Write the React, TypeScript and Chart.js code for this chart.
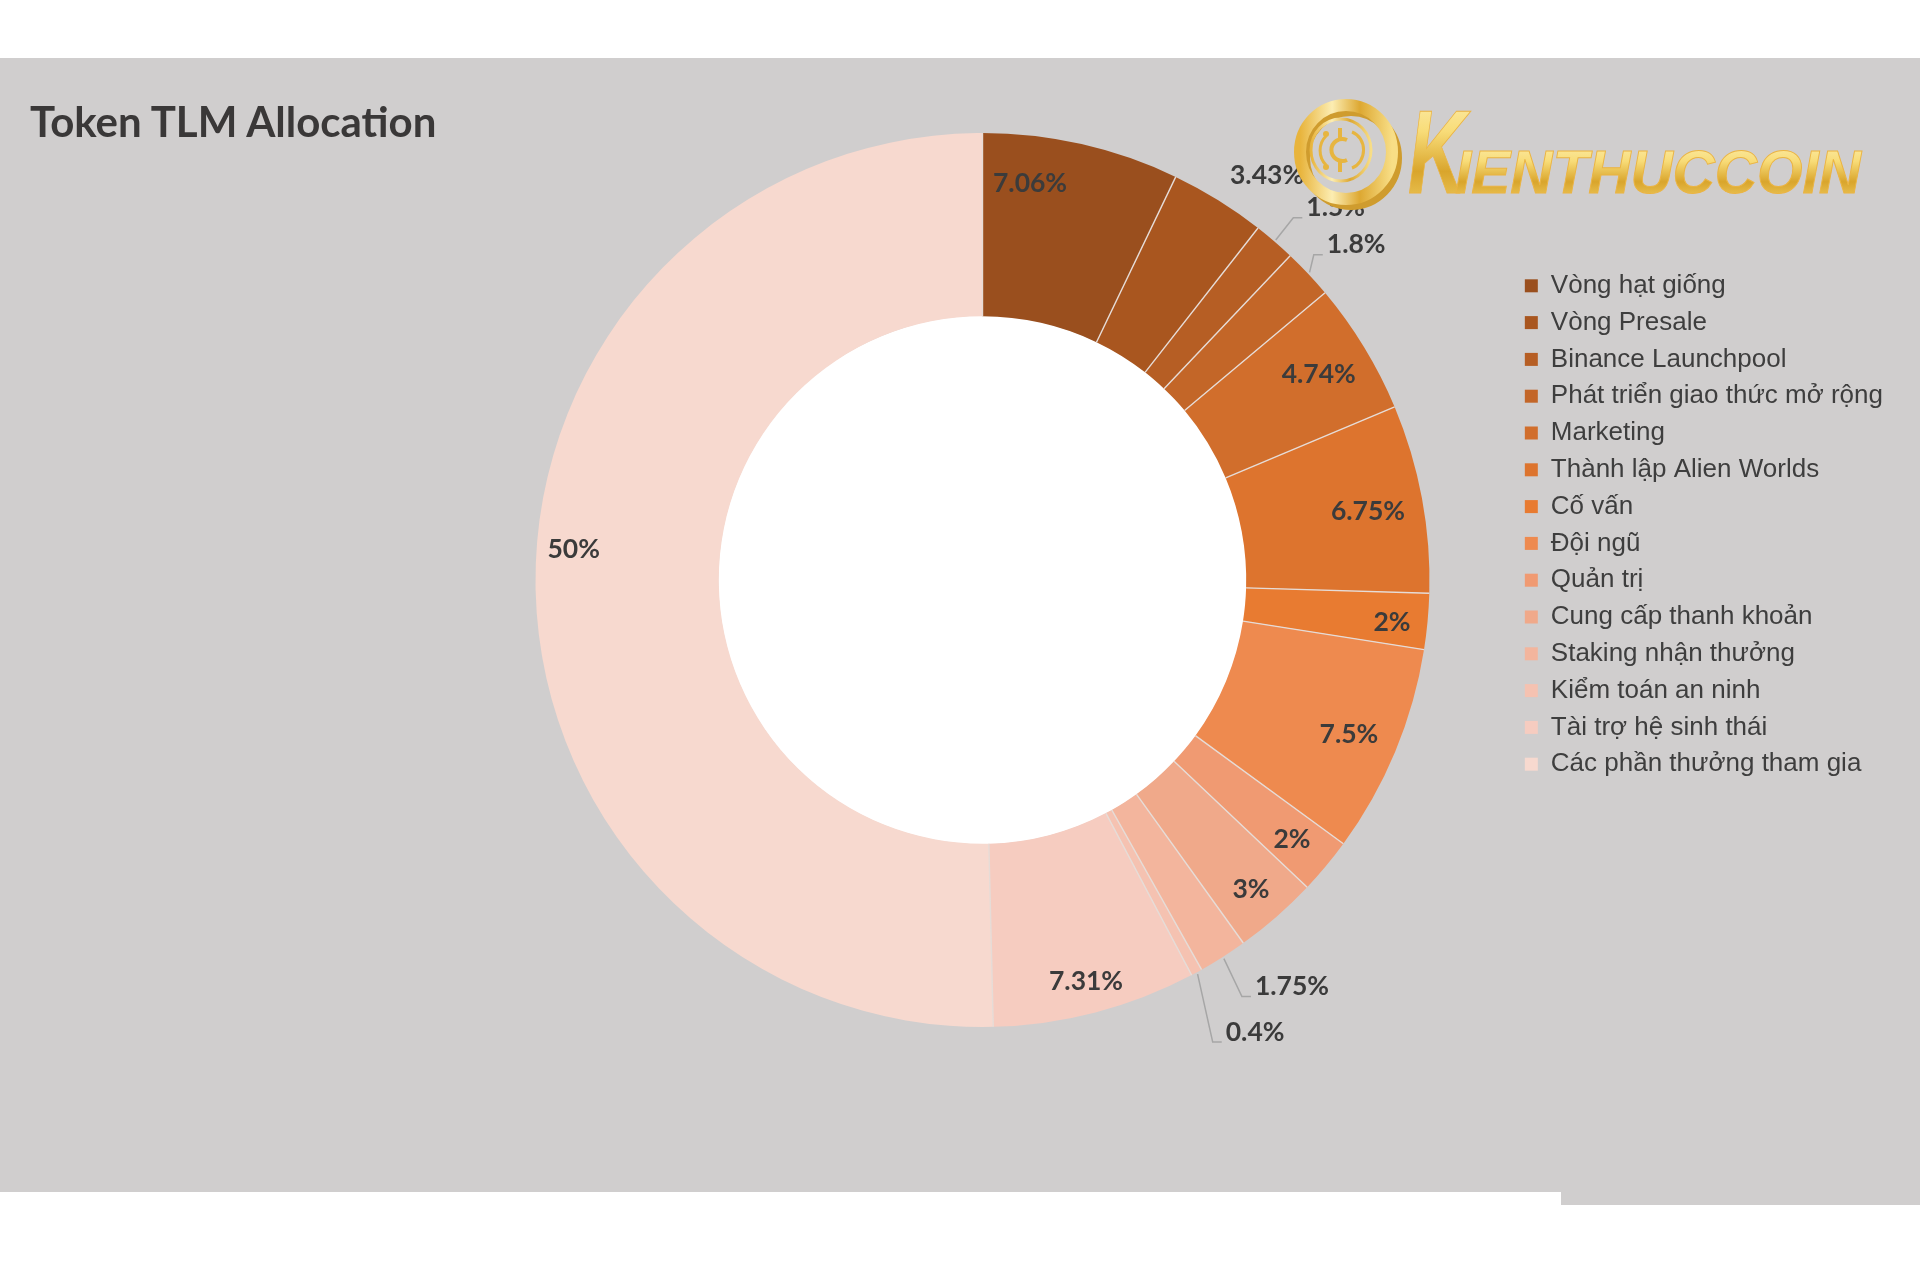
import React, { useEffect, useRef } from 'react';
import { Chart, registerables } from 'chart.js';

Chart.register(...registerables);

// ---- data ----
const categories = [
  'Vòng hạt giống',
  'Vòng Presale',
  'Binance Launchpool',
  'Phát triển giao thức mở rộng',
  'Marketing',
  'Thành lập Alien Worlds',
  'Cố vấn',
  'Đội ngũ',
  'Quản trị',
  'Cung cấp thanh khoản',
  'Staking nhận thưởng',
  'Kiểm toán an ninh',
  'Tài trợ hệ sinh thái',
  'Các phần thưởng tham gia',
];
const values = [7.06, 3.43, 1.5, 1.8, 4.74, 6.75, 2, 7.5, 2, 3, 1.75, 0.4, 7.31, 50];
const chartTitle = 'Token TLM Allocation';
const logoHead = 'K';
const logoTail = 'IENTHUCCOIN';

// ---- styles ----
const sliceColors = [
  '#9A4F1E', '#A9561F', '#B65E24', '#C36628', '#D16E2C', '#DD742E', '#E87B31',
  '#EE8A4F', '#F09A72', '#F0A98A', '#F3B59D', '#F5C2B1', '#F6CCC0', '#F7D9CF',
];
// label placement: fraction along the slice angle, radius as a factor of outer radius
const labelPlacement = [
  { frac: 0.267, radius: 0.893, leader: false },
  { frac: 0.763, radius: 1.107, leader: false },
  { frac: 1.0, radius: 1.148, leader: true },
  { frac: 0.706, radius: 1.123, leader: true },
  { frac: 0.5, radius: 0.881, leader: false },
  { frac: 0.516, radius: 0.876, leader: false },
  { frac: 0.573, radius: 0.921, leader: false },
  { frac: 0.513, radius: 0.89, leader: false },
  { frac: 0.53, radius: 0.904, leader: false },
  { frac: 0.52, radius: 0.917, leader: false },
  { frac: -0.25, radius: 1.143, leader: true },
  { frac: -1.2, radius: 1.181, leader: true },
  { frac: 0.507, radius: 0.928, leader: false },
  { frac: 0.527, radius: 0.917, leader: false },
];

const GRAY = '#D0CECE';
const LABEL_FONT = 'bold 26.5px Lato, "Open Sans", sans-serif';
const LEGEND_FAMILY = '"Liberation Sans", Arial, sans-serif';

const holePlugin = {
  id: 'hole',
  beforeDatasetsDraw(chart: any) {
    const el = chart.getDatasetMeta(0).data[0];
    if (!el) return;
    const { x, y, innerRadius } = el.getProps(['x', 'y', 'innerRadius'], true);
    const ctx = chart.ctx;
    ctx.save();
    ctx.fillStyle = '#FFFFFF';
    ctx.beginPath();
    ctx.arc(x, y, innerRadius + 0.5, 0, Math.PI * 2);
    ctx.fill();
    ctx.restore();
  },
};

const separatorPlugin = {
  id: 'separators',
  afterDatasetsDraw(chart: any) {
    const ctx = chart.ctx;
    ctx.save();
    ctx.strokeStyle = '#E6DCD7';
    ctx.lineWidth = 1.4;
    chart.getDatasetMeta(0).data.forEach((el: any) => {
      const { x, y, startAngle, innerRadius, outerRadius } = el.getProps(
        ['x', 'y', 'startAngle', 'innerRadius', 'outerRadius'], true);
      ctx.beginPath();
      ctx.moveTo(x + Math.cos(startAngle) * innerRadius, y + Math.sin(startAngle) * innerRadius);
      ctx.lineTo(x + Math.cos(startAngle) * outerRadius, y + Math.sin(startAngle) * outerRadius);
      ctx.stroke();
    });
    ctx.restore();
  },
};

const labelPlugin = {
  id: 'sliceLabels',
  afterDatasetsDraw(chart: any) {
    const ctx = chart.ctx;
    const ds = chart.data.datasets[0].data as number[];
    ctx.save();
    ctx.font = LABEL_FONT;
    ctx.textAlign = 'center';
    ctx.textBaseline = 'middle';
    chart.getDatasetMeta(0).data.forEach((el: any, i: number) => {
      const { x, y, startAngle, endAngle, outerRadius } = el.getProps(
        ['x', 'y', 'startAngle', 'endAngle', 'outerRadius'], true);
      const p = labelPlacement[i];
      const a = startAngle + p.frac * (endAngle - startAngle);
      const r = outerRadius * p.radius;
      const lx = x + Math.cos(a) * r;
      const ly = y + Math.sin(a) * r;
      const text = `${ds[i]}%`;
      const w = ctx.measureText(text).width;
      if (p.leader) {
        const mid = (startAngle + endAngle) / 2;
        const sx = x + Math.cos(mid) * (outerRadius + 2);
        const sy = y + Math.sin(mid) * (outerRadius + 2);
        const left = lx - w / 2;
        ctx.strokeStyle = '#A6A6A6';
        ctx.lineWidth = 1.5;
        ctx.beginPath();
        ctx.moveTo(sx, sy);
        ctx.lineTo(left - 13, ly + 10);
        ctx.lineTo(left - 4, ly + 10);
        ctx.stroke();
      }
      ctx.fillStyle = '#3B3B3B';
      ctx.fillText(text, lx, ly);
    });
    ctx.restore();
  },
};

export default function App() {
  const ref = useRef<HTMLCanvasElement>(null);

  useEffect(() => {
    const canvas = ref.current;
    if (!canvas) return;
    const legendFont = 26;
    const legendPad = 10.8;
    const boxW = 13;
    const rightPad = 27;
    const centerX = 982.5;
    const m = canvas.getContext('2d')!;
    m.font = `${legendFont}px ${LEGEND_FAMILY}`;
    const maxText = Math.max(...categories.map((c) => m.measureText(c).width));
    const legendWidth = legendPad + boxW + legendFont / 2 + maxText + 10;
    const areaRight = 1920 - rightPad - legendWidth;
    const leftPad = 2 * centerX - areaRight;

    const chart = new Chart(canvas, {
      type: 'doughnut',
      data: {
        labels: categories,
        datasets: [
          {
            data: values,
            backgroundColor: sliceColors,
            borderWidth: 0,
            hoverBorderWidth: 0,
            hoverOffset: 0,
            offset: 0,
          } as any,
        ],
      },
      options: {
        responsive: false,
        animation: false,
        devicePixelRatio: 1,
        cutout: '59%',
        events: [],
        layout: { padding: { top: 133, bottom: 253, left: leftPad, right: rightPad } },
        plugins: {
          legend: {
            position: 'right',
            align: 'start',
            title: { display: true, text: '', padding: { top: 117, bottom: 0 }, font: { size: 10 } },
            labels: {
              boxWidth: boxW,
              boxHeight: 13,
              padding: legendPad,
              color: '#3E3E3E',
              font: { family: LEGEND_FAMILY, size: legendFont },
            },
          },
          tooltip: { enabled: false },
        },
      } as any,
      plugins: [holePlugin, separatorPlugin, labelPlugin],
    });
    return () => chart.destroy();
  }, []);

  return (
    <div style={{ position: 'absolute', left: 0, top: 0, width: 1920, height: 1280, overflow: 'hidden', background: '#FFFFFF' }}>
      <div style={{ position: 'absolute', left: 0, top: 58, width: 1920, height: 1134, background: GRAY }} />
      <div style={{ position: 'absolute', left: 1561, top: 1192, width: 359, height: 13, background: GRAY }} />
      <canvas ref={ref} width={1920} height={1280} style={{ position: 'absolute', left: 0, top: 0, width: 1920, height: 1280 }} />
      <div style={{ position: 'absolute', left: 30, top: 100, font: 'bold 42px Lato, sans-serif', lineHeight: '42px', color: '#3A3838', whiteSpace: 'nowrap' }}>
        {chartTitle}
      </div>
      <svg width={1920} height={1280} style={{ position: 'absolute', left: 0, top: 0, pointerEvents: 'none' }}>
        <defs>
          <linearGradient id="goldV" x1="0" y1="0" x2="0" y2="1">
            <stop offset="0" stopColor="#FDF0B8" />
            <stop offset="0.35" stopColor="#F8DC78" />
            <stop offset="0.65" stopColor="#D9A52C" />
            <stop offset="1" stopColor="#F3D36A" />
          </linearGradient>
          <linearGradient id="goldH" x1="0" y1="0" x2="1" y2="0">
            <stop offset="0" stopColor="#E8B43C" />
            <stop offset="0.35" stopColor="#FCEDB2" />
            <stop offset="0.65" stopColor="#DDA832" />
            <stop offset="1" stopColor="#F8DE86" />
          </linearGradient>
        </defs>
        <ellipse cx={1351} cy={158} rx={46} ry={47} fill="none" stroke="#CF9C2E" strokeWidth={10} />
        <ellipse cx={1346} cy={152} rx={46} ry={47} fill="none" stroke="url(#goldH)" strokeWidth={12} />
        <ellipse cx={1341} cy={150} rx={30} ry={31} fill="none" stroke="url(#goldH)" strokeWidth={3} />
        <path d="M 1347 140 A 11 11 0 1 0 1347 160" fill="none" stroke="#E7B540" strokeWidth={4} />
        <path d="M 1340 128 L 1340 139 M 1340 161 L 1340 172" fill="none" stroke="#E7B540" strokeWidth={4} />
        <path d="M 1326 136 A 19 20 0 0 0 1326 165" fill="none" stroke="#E7B540" strokeWidth={3} />
        <path d="M 1352 132 A 17 19 0 0 1 1352 168" fill="none" stroke="#E7B540" strokeWidth={3} />
        <circle cx={1326} cy={134} r={3} fill="#E7B540" />
        <circle cx={1326} cy={167} r={3} fill="#E7B540" />
        <text x={1408} y={193} fontFamily={LEGEND_FAMILY} fontWeight="bold" fontStyle="italic" fontSize={119}
          fill="url(#goldV)" stroke="#EBB443" strokeWidth={1} textLength={58} lengthAdjust="spacingAndGlyphs">
          {logoHead}
        </text>
        <text x={1455} y={193} fontFamily={LEGEND_FAMILY} fontWeight="bold" fontStyle="italic" fontSize={62}
          fill="url(#goldV)" stroke="#EBB443" strokeWidth={1} textLength={406} lengthAdjust="spacingAndGlyphs">
          {logoTail}
        </text>
      </svg>
    </div>
  );
}
